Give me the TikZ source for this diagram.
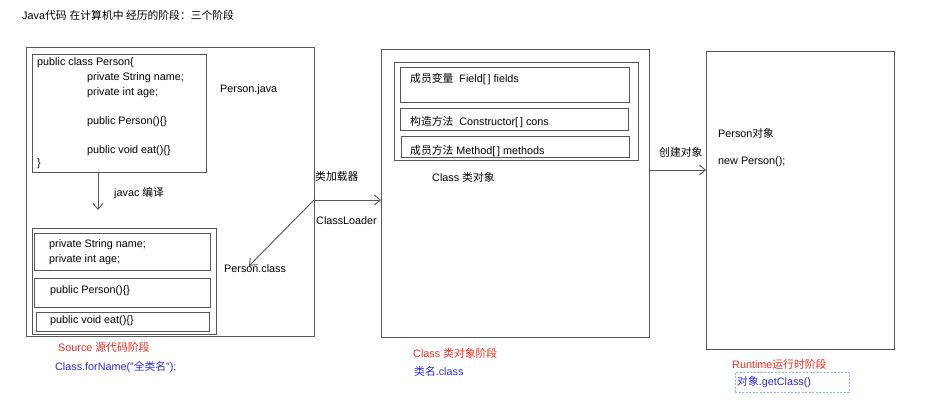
\documentclass[tikz,border=0pt]{standalone}
\usepackage{fontspec}
\setmainfont{Liberation Sans}
\newfontfamily\cjk{Noto Sans CJK SC}
\usetikzlibrary{arrows.meta}
\definecolor{stageBorder}{HTML}{555555}
\definecolor{stageRed}{HTML}{F02A1E}
\definecolor{stageBlue}{HTML}{2B2BD6}
\definecolor{selBlue}{HTML}{86B6E8}

\begin{document}
\begin{tikzpicture}[
  x=1pt, y=-1pt,
  font=\fontsize{10.8}{12}\selectfont,
  stage/.style={
    rectangle,
    draw=stageBorder,
    line width=1pt,
    inner sep=0pt,
    outer sep=0pt,
    anchor=north west
  },
  lbl/.style={anchor=west, inner sep=0pt, text=black},
  phaseLbl/.style={anchor=west, inner sep=0pt, text=stageRed},
  callLbl/.style={anchor=west, inner sep=0pt, text=stageBlue},
  selbox/.style={
    rectangle,
    draw=selBlue,
    dash pattern=on 2pt off 1.5pt,
    line width=0.8pt,
    inner sep=0pt,
    anchor=north west
  },
  arr/.style={-{Straight Barb[length=6pt, width=10pt]}, stageBorder, line width=0.9pt}
]
  \useasboundingbox (0,0) rectangle (927,400);

  \node[lbl] (title) at (22,15) {Java{\cjk 代码} {\cjk 在计算机中 经历的阶段：三个阶段}};

  % source stage
  \node[stage, minimum width=288pt, minimum height=289pt] (src) at (26,47) {};
  \node[stage, minimum width=174pt, minimum height=118pt] (srcCode) at (32,54) {};
  \node[lbl] (c1) at (37,63) {public class Person\{};
  \node[lbl] (c2) at (87,78) {private String name;};
  \node[lbl] (c3) at (87,93) {private int age;};
  \node[lbl] (c4) at (87,122) {public Person()\{\}};
  \node[lbl] (c5) at (87,151) {public void eat()\{\}};
  \node[lbl] (c6) at (37,164) {\}};
  \node[lbl] (pjava) at (220,90) {Person.java};
  \node[lbl] (javac) at (114,193) {javac {\cjk 编译}};

  \node[stage, minimum width=184pt, minimum height=106pt] (cls) at (32,228) {};
  \node[stage, minimum width=176pt, minimum height=37pt] (clsF) at (34,233) {};
  \node[stage, minimum width=176pt, minimum height=29pt] (clsC) at (34,278) {};
  \node[stage, minimum width=173pt, minimum height=19pt] (clsM) at (36,312) {};
  \node[lbl] (f1) at (49,245) {private String name;};
  \node[lbl] (f2) at (49,260) {private int age;};
  \node[lbl] (k1) at (50,291) {public Person()\{\}};
  \node[lbl] (m1) at (50,321) {public void eat()\{\}};
  \node[lbl] (pcls) at (224,269) {Person.class};

  \node[phaseLbl] (srcPhase) at (58,347) {Source {\cjk 源代码阶段}};
  \node[callLbl] (srcCall) at (55,367) {Class.forName("{\cjk 全类名}");};

  % class object stage
  \node[stage, minimum width=268pt, minimum height=288pt] (mid) at (381,49) {};
  \node[stage, minimum width=244pt, minimum height=98pt] (midGrp) at (394,62) {};
  \node[stage, minimum width=229pt, minimum height=35pt] (midF) at (400,67) {};
  \node[stage, minimum width=228pt, minimum height=22pt] (midC) at (400,108) {};
  \node[stage, minimum width=228pt, minimum height=21pt] (midM) at (401,136) {};
  \node[lbl] (fields) at (410,79) {{\cjk 成员变量}\ \ Field[\,] fields};
  \node[lbl] (cons) at (410,122) {{\cjk 构造方法}\ \ Constructor[\,] cons};
  \node[lbl] (meths) at (410,151) {{\cjk 成员方法} Method[\,] methods};
  \node[lbl] (clsObj) at (432,177) {Class {\cjk 类对象}};
  \node[lbl] (loaderCn) at (315,176) {{\cjk 类加载器}};
  \node[lbl] (loaderEn) at (316,221) {ClassLoader};

  \node[phaseLbl] (midPhase) at (413,353) {Class {\cjk 类对象阶段}};
  \node[callLbl] (midCall) at (414,371) {{\cjk 类名}.class};

  % runtime stage
  \node[stage, minimum width=188pt, minimum height=298pt] (obj) at (706,51) {};
  \node[lbl] (pobj) at (718,133) {Person{\cjk 对象}};
  \node[lbl] (pnew) at (718,162) {new Person();};
  \node[lbl] (mkObj) at (659,152) {{\cjk 创建对象}};

  \node[phaseLbl] (rtPhase) at (732,364) {Runtime{\cjk 运行时阶段}};
  \node[selbox, minimum width=114pt, minimum height=20pt] (sel) at (735,372) {};
  \node[callLbl] (rtCall) at (737,382) {{\cjk 对象}.getClass()};

  % connectors
  \coordinate (javacEnd) at (98,210);
  \coordinate (loader) at (src.east |- 0,200);
  \draw[arr] (srcCode.south -| javacEnd) -- (javacEnd);
  \draw[arr] (loader) -- (loader -| mid.west);
  \draw[arr] (loader) -- ([xshift=-6pt, yshift=-1pt]pcls.north);
  \draw[arr] (mid.east |- 0,170) -- (obj.west |- 0,170);
\end{tikzpicture}
\end{document}
